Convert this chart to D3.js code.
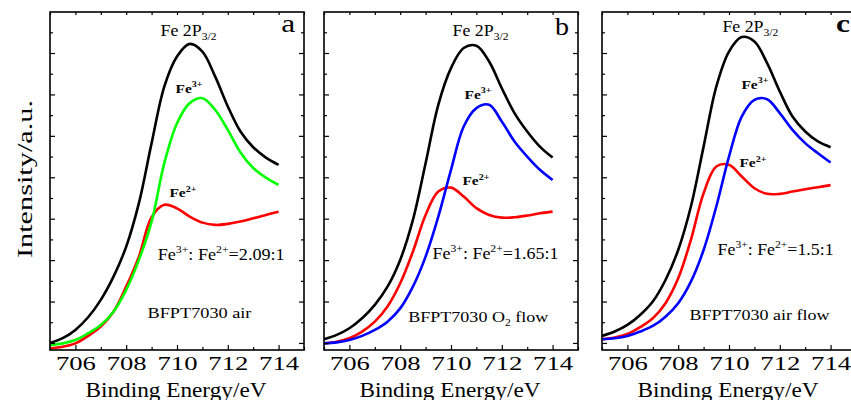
<!DOCTYPE html>
<html>
<head>
<meta charset="utf-8">
<script src="https://cdn.jsdelivr.net/npm/d3@7"></script>
<style>
  body { margin: 0; background: #fff; }
  svg { display: block; }
  text { font-family: "Times New Roman", "Liberation Serif", Times, serif; fill: #000; }
</style>
</head>
<body>
<div class="container"></div>
<script>
// Size of frame
const width = 851;
const height = 400;
const panelLefts = [50, 324, 602];
const panelW = 254;
const plotTop = 12;
const plotBottom = 350;

// Binding energy grid (eV) shared by every curve
const energy = [705, 705.5, 706, 706.5, 707, 707.5, 708, 708.5, 709, 709.5,
  710, 710.5, 711, 711.5, 712, 712.5, 713, 713.5, 714];

// a: BFPT7030 air
const airTotal = [0.0, 0.23, 0.63, 1.24, 2.08, 3.2, 4.65, 6.75, 9.65, 12.38,
  13.83, 14.44, 14.07, 12.87, 11.42, 10.21, 9.45, 8.95, 8.6];
const airFe3 = [-0.1, -0.02, 0.14, 0.47, 0.87, 1.51, 2.56, 4.01, 5.86, 8.68,
  10.61, 11.58, 11.82, 11.26, 10.29, 9.2, 8.45, 7.98, 7.63];
const airFe2 = [-0.26, -0.18, -0.02, 0.34, 0.79, 1.51, 2.72, 4.17, 6.07, 6.67,
  6.5, 6.1, 5.81, 5.7, 5.75, 5.86, 6.02, 6.18, 6.34];

// b: BFPT7030 O2 flow
const o2Total = [0.18, 0.39, 0.71, 1.19, 1.84, 2.72, 4.01, 5.94, 8.68, 11.5,
  13.27, 14.24, 14.35, 13.59, 12.3, 11.1, 10.21, 9.48, 8.95];
const o2Fe3 = [-0.02, 0.03, 0.14, 0.34, 0.63, 1.03, 1.67, 2.72, 4.17, 6.1,
  8.36, 10.45, 11.34, 11.5, 10.69, 9.73, 9.0, 8.36, 7.87];
const o2Fe2 = [-0.02, 0.06, 0.23, 0.55, 1.03, 1.76, 2.88, 4.41, 6.18, 7.31,
  7.5, 7.07, 6.51, 6.18, 6.05, 6.07, 6.15, 6.26, 6.34];

// c: BFPT7030 air flow
const flowTotal = [0.34, 0.55, 0.87, 1.35, 2.0, 3.04, 4.49, 6.59, 9.48, 12.38,
  14.07, 14.77, 14.56, 13.51, 12.14, 10.93, 10.21, 9.73, 9.45];
const flowFe3 = [0.18, 0.23, 0.34, 0.55, 0.82, 1.27, 1.92, 2.96, 4.49, 6.59,
  9.0, 10.93, 11.74, 11.77, 11.1, 10.29, 9.65, 9.16, 8.71];
const flowFe2 = [0.18, 0.26, 0.43, 0.76, 1.19, 1.92, 3.12, 4.98, 7.23, 8.52,
  8.6, 8.04, 7.47, 7.2, 7.2, 7.31, 7.42, 7.52, 7.62];

// Labels
const panelLetters = ['a', 'b', 'c'];
const sampleNames = [
  [['BFPT7030 air', 'n']],
  [['BFPT7030 O', 'n'], ['2', 'sub'], [' flow', 'n']],
  [['BFPT7030 air flow', 'n']],
];
const ratios = ['2.09:1', '1.65:1', '1.5:1'];
const fe3Colors = ['#00ff00', '#0000ff', '#0000ff'];
const fe2Color = '#ff0000';
const totalColor = '#000000';
const majorTicks = [706, 708, 710, 712, 714];
const minorTicks = [705, 707, 709, 711, 713, 715];

// Annotation anchors in data units (energy, intensity) and target widths in px
const notes = [
  { head: [709.35, 14.83], letter: [714.1, 15.02], fe3: [709.94, 12.08], fe2: [709.7, 7.05],
    ratio: [709.24, 4.01], name: [708.84, 1.21], ratioW: 127, nameW: 104 },
  { head: [710.06, 14.83], letter: [714.09, 14.88], fe3: [710.53, 11.79], fe2: [710.45, 7.63],
    ratio: [709.27, 4.06], name: [708.32, 1.01], ratioW: 126, nameW: 140 },
  { head: [709.74, 15.02], letter: [714.21, 15.02], fe3: [710.49, 12.27], fe2: [710.41, 8.5],
    ratio: [709.55, 4.25], name: [708.44, 1.11], ratioW: 116, nameW: 140 },
];

const panels = [
  [airTotal, airFe3, airFe2],
  [o2Total, o2Fe3, o2Fe2],
  [flowTotal, flowFe3, flowFe2],
];

const svg = d3.select('.container')
  .append('svg')
  .attr('width', width)
  .attr('height', height);

const y = d3.scaleLinear().domain([-0.34, 15.98]).range([plotBottom, plotTop]);
const yMajor = d3.range(0, 16, 2);
const yMinor = d3.range(1, 16, 2);

// text with super/subscript parts, stretched to a target width
function label(g, pos, parts, size, weight, targetW) {
  const wrap = g.append('g');
  const t = wrap.append('text')
    .attr('font-size', size)
    .attr('font-weight', weight);
  let shift = 0;
  parts.forEach(([s, kind]) => {
    const ts = t.append('tspan').text(s);
    let want = 0;
    if (kind === 'sup') { want = -0.45 * size; ts.attr('font-size', size * 0.65); }
    if (kind === 'sub') { want = 0.25 * size; ts.attr('font-size', size * 0.65); }
    ts.attr('dy', want - shift);
    shift = want;
  });
  let sx = 1;
  if (targetW) sx = targetW / t.node().getComputedTextLength();
  wrap.attr('transform', `translate(${pos[0]},${pos[1]}) scale(${sx},1)`);
}

const line = (x) => d3.line()
  .x((d, i) => x(energy[i]))
  .y(d => y(d))
  .curve(d3.curveCatmullRom.alpha(0.5));

panels.forEach((series, p) => {
  const left = panelLefts[p];
  const x = d3.scaleLinear().domain([705, 715]).range([left, left + panelW]);
  const g = svg.append('g').attr('class', 'panel');

  // curves: Fe2+, Fe3+, total on top
  const colors = [totalColor, fe3Colors[p], fe2Color];
  [2, 1, 0].forEach(k => {
    g.append('path')
      .datum(series[k])
      .attr('d', line(x))
      .attr('fill', 'none')
      .attr('stroke', colors[k])
      .attr('stroke-width', 2.6)
      .attr('stroke-linejoin', 'round');
  });

  // frame
  g.append('rect')
    .attr('x', left).attr('y', plotTop)
    .attr('width', panelW).attr('height', plotBottom - plotTop)
    .attr('fill', 'none').attr('stroke', '#000').attr('stroke-width', 1.6);

  const strip = sel => { sel.select('.domain').remove(); sel.selectAll('line').attr('stroke-width', 1.2); };

  // bottom axis
  const bx = g.append('g').attr('transform', `translate(0,${plotBottom})`)
    .call(d3.axisBottom(x).tickValues(majorTicks).tickSizeInner(-5).tickSizeOuter(0).tickPadding(7).tickFormat(d3.format('d')))
    .call(strip);
  bx.selectAll('text')
    .attr('font-family', null)
    .attr('font-size', 18)
    .attr('textLength', 40)
    .attr('lengthAdjust', 'spacingAndGlyphs');
  g.append('g').attr('transform', `translate(0,${plotBottom})`)
    .call(d3.axisBottom(x).tickValues(minorTicks).tickSizeInner(-3).tickSizeOuter(0).tickFormat(''))
    .call(strip);
  // top axis
  g.append('g').attr('transform', `translate(0,${plotTop})`)
    .call(d3.axisTop(x).tickValues(d3.range(705, 716)).tickSizeInner(-3).tickSizeOuter(0).tickFormat(''))
    .call(strip);
  // left and right axes
  [[d3.axisLeft, left], [d3.axisRight, left + panelW]].forEach(([ax, pos]) => {
    g.append('g').attr('transform', `translate(${pos},0)`)
      .call(ax(y).tickValues(yMajor).tickSizeInner(-5).tickSizeOuter(0).tickFormat(''))
      .call(strip);
    g.append('g').attr('transform', `translate(${pos},0)`)
      .call(ax(y).tickValues(yMinor).tickSizeInner(-3).tickSizeOuter(0).tickFormat(''))
      .call(strip);
  });

  // x label
  g.append('text')
    .attr('x', left + panelW / 2 - 1)
    .attr('y', 397)
    .attr('text-anchor', 'middle')
    .attr('font-size', 21)
    .attr('textLength', 181)
    .attr('lengthAdjust', 'spacingAndGlyphs')
    .text('Binding Energy/eV');

  // annotations
  const n = notes[p];
  const at = d => [x(d[0]), y(d[1])];
  label(g, at(n.head), [['Fe 2P', 'n'], ['3/2', 'sub']], 16, 'normal', 56);
  label(g, at(n.letter), [[panelLetters[p], 'n']], 25, p === 2 ? 'bold' : 'normal', 14);
  label(g, at(n.fe3), [['Fe', 'n'], ['3+', 'sup']], 12, 'bold', 27);
  label(g, at(n.fe2), [['Fe', 'n'], ['2+', 'sup']], 12, 'bold', 27);
  label(g, at(n.ratio), [['Fe', 'n'], ['3+', 'sup'], [': Fe', 'n'], ['2+', 'sup'], ['=' + ratios[p], 'n']], 16, 'normal', n.ratioW);
  label(g, at(n.name), sampleNames[p], 15.5, 'normal', n.nameW);
});

// y label
svg.append('text')
  .attr('transform', 'translate(32,179) rotate(-90)')
  .attr('text-anchor', 'middle')
  .attr('font-size', 22)
  .attr('textLength', 158)
  .attr('lengthAdjust', 'spacingAndGlyphs')
  .text('Intensity/a.u.');
</script>
</body>
</html>
